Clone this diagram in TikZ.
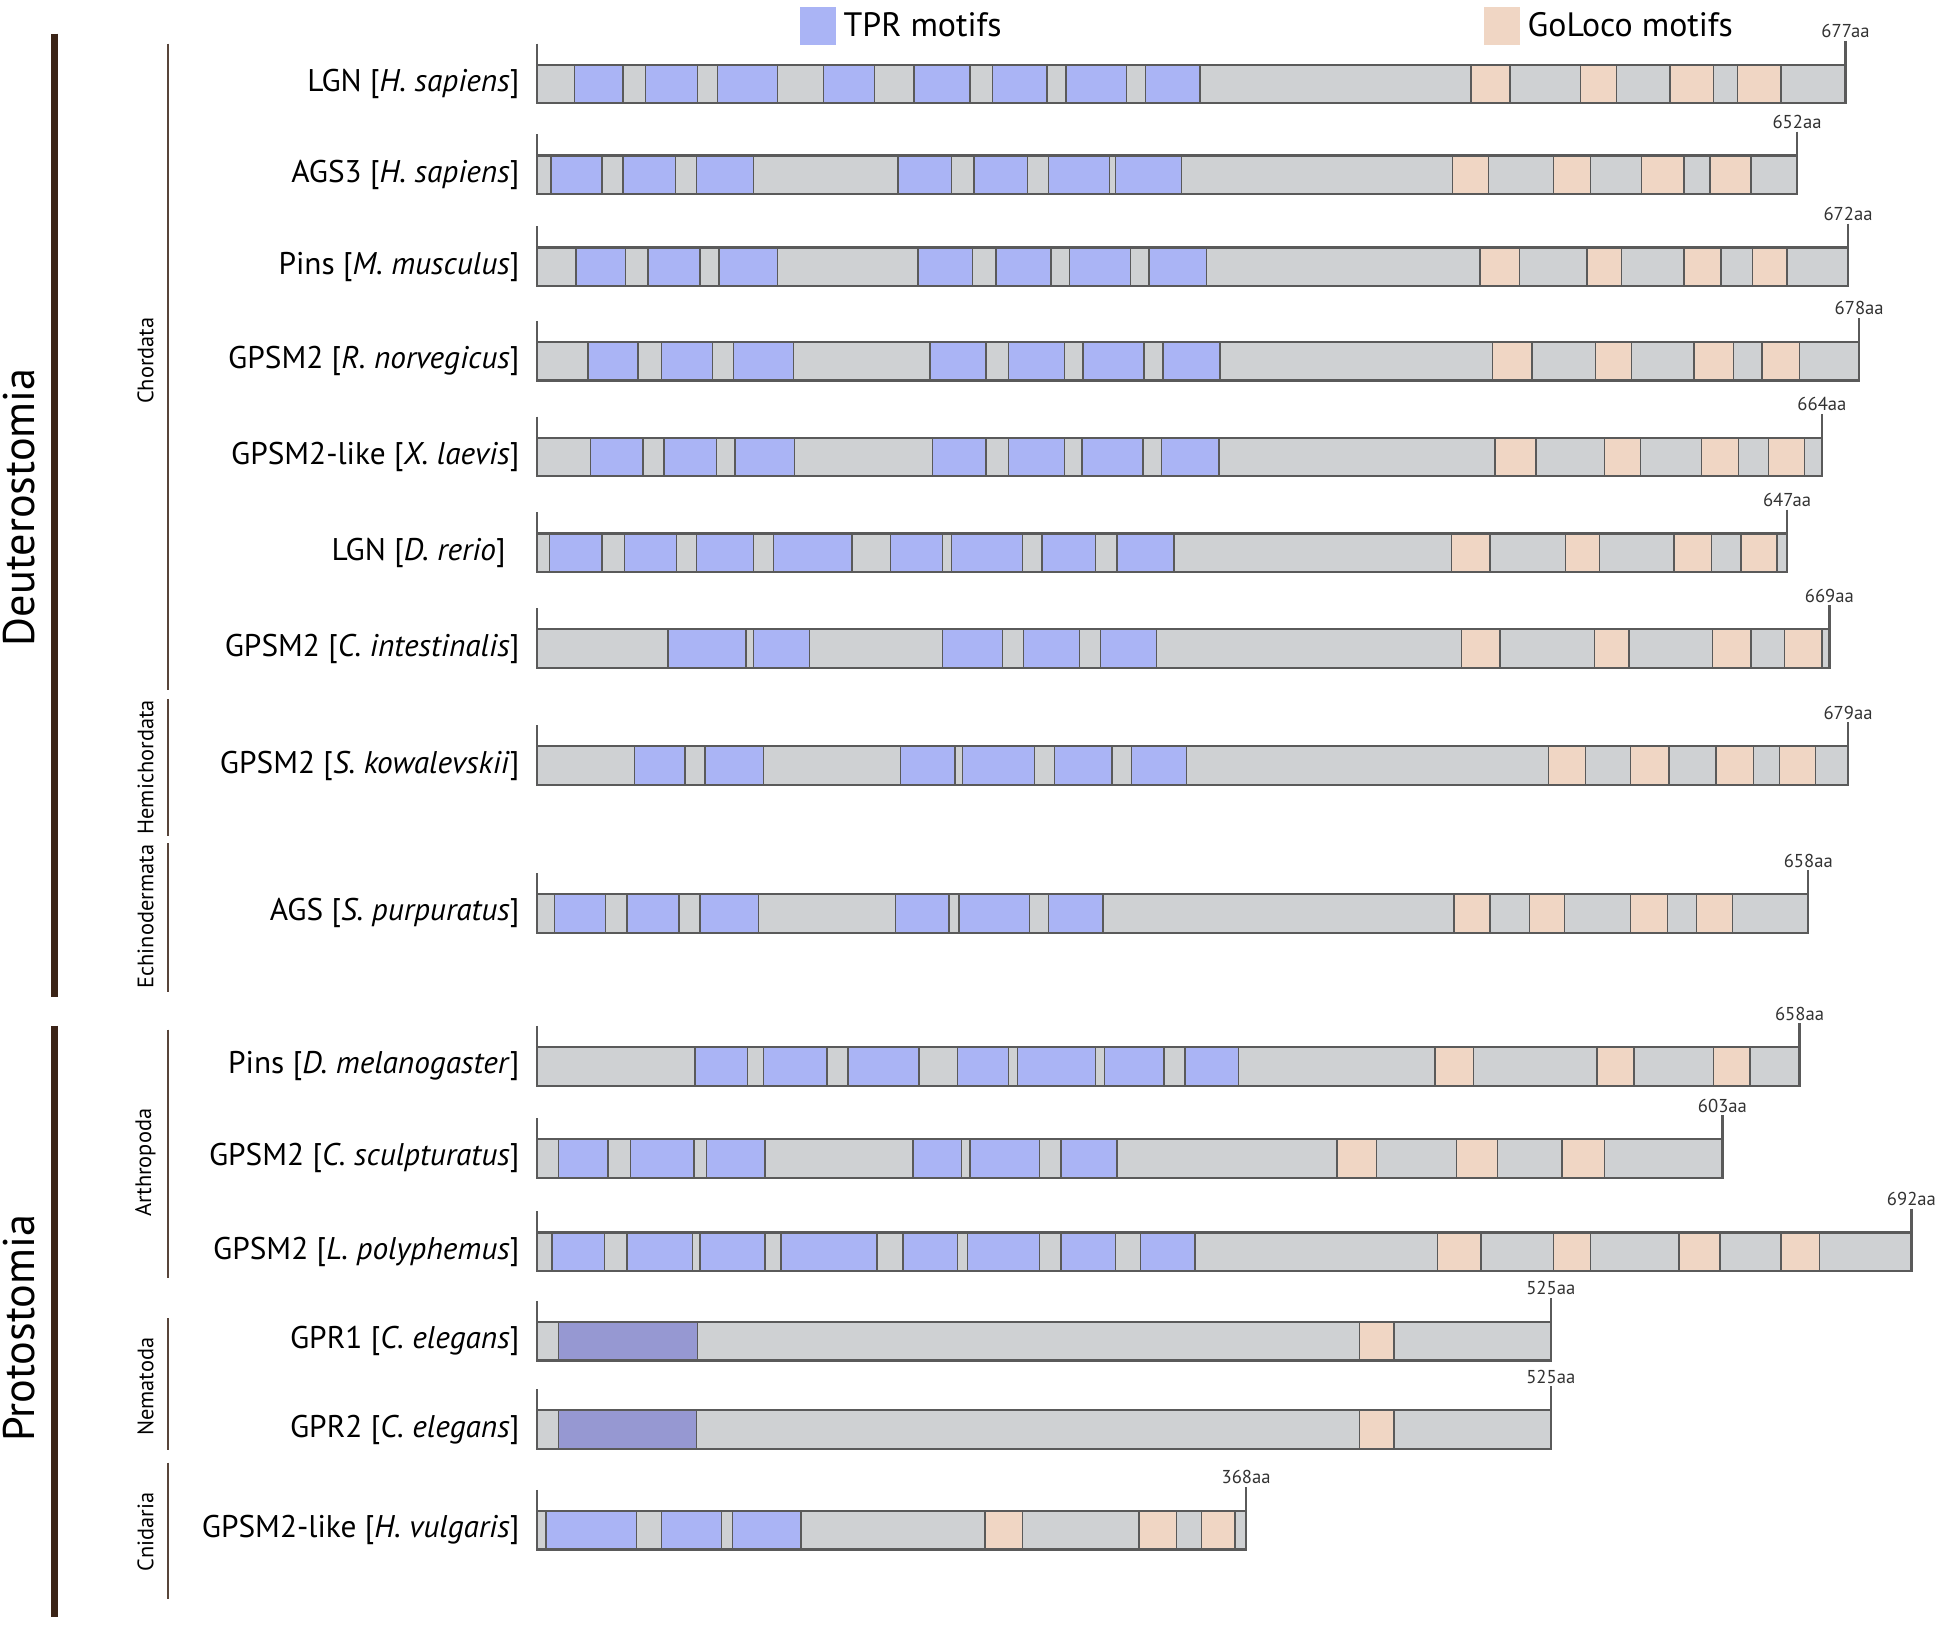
\documentclass[tikz,border=0pt]{standalone}
\usepackage{fontspec}
\setmainfont{PT Sans}
\definecolor{barfillc}{HTML}{CFD1D3}
\definecolor{tprc}{HTML}{AAB4F5}
\definecolor{gloc}{HTML}{F0D6C4}
\definecolor{gprc}{HTML}{9698D2}
\definecolor{outc}{HTML}{5A5A5A}
\definecolor{brownc}{HTML}{3B2417}
\tikzset{
  barfill/.style={fill=barfillc},
  barline/.style={draw=outc,line width=0.9pt},
  segline/.style={draw=outc,line width=0.6pt},
  numlbl/.style={font=\fontsize{7.5}{8}\selectfont,inner sep=1pt,text=black!80},
  rowlbl/.style={anchor=east,inner sep=0pt,font=\fontsize{12.6}{14}\selectfont},
  phylbl/.style={rotate=90,inner sep=0pt,font=\fontsize{9}{10}\selectfont},
  cladelbl/.style={rotate=90,inner sep=0pt,font=\fontsize{17.8}{20}\selectfont},
  phyline/.style={draw=brownc!85,line width=1pt},
  cladeline/.style={draw=brownc,line width=3pt},
  legbox/.style={inner sep=0pt,minimum width=14.5pt,minimum height=15.5pt},
  legtext/.style={anchor=west,inner sep=0pt,font=\fontsize{13.6}{15}\selectfont}
}
\newcommand\protrow[7][418]{%
  \fill[barfill] (432,#3) rectangle (#4,#3+31);
  \foreach \segA/\segB/\segC in {#7} {\filldraw[fill=\segC,segline] (\segA,#3) rectangle (\segB,#3+31);}
  \draw[barline] (432,#3) rectangle (#4,#3+31);
  \draw[barline] (432,#3-17) -- (432,#3);
  \node[numlbl] (len#2) at (#4,#3-27) {#5};
  \draw[barline] (len#2.south) -- (#4,#3);
  \node[rowlbl] (lbl#2) at (#1,#3+15.5) {#6};
}
\begin{document}
\begin{tikzpicture}[x=0.5pt,y=-0.5pt]
\useasboundingbox (0,0) rectangle (1568,1310);
\fill[white] (0,0) rectangle (1568,1310);

% legend
\node[legbox,fill=tprc,anchor=north west] (legtpr) at (643,5) {};
\node[legtext] (legtprt) at (678,20) {TPR motifs};
\node[legbox,fill=gloc,anchor=north west] (leggl) at (1193,5) {};
\node[legtext] (leggltt) at (1228,20) {GoLoco motifs};

% clades
\draw[cladeline] (44,27) -- (44,802);
\draw[cladeline] (44,825) -- (44,1300);
\node[cladelbl] (deut) at (15,408) {Deuterostomia};
\node[cladelbl] (prot) at (15,1068) {Protostomia};

% phyla
\draw[phyline] (135,35) -- (135,555);
\draw[phyline] (135,562) -- (135,672);
\draw[phyline] (135,678) -- (135,798);
\draw[phyline] (135,828) -- (135,1028);
\draw[phyline] (135,1060) -- (135,1166);
\draw[phyline] (135,1176) -- (135,1286);
\node[phylbl] (chor) at (117,290) {Chordata};
\node[phylbl] (hemi) at (117,617) {Hemichordata};
\node[phylbl] (echi) at (117,737) {Echinodermata};
\node[phylbl] (arth) at (117,935) {Arthropoda};
\node[phylbl] (nema) at (117,1115) {Nematoda};
\node[phylbl] (cnid) at (117,1232) {Cnidaria};

% proteins
\protrow{1}{52}{1484}{677aa}{LGN [\textit{H. sapiens}]}{462/501/tprc,519/561/tprc,577/625/tprc,662/703/tprc,735/780/tprc,798/842/tprc,857/906/tprc,921/965/tprc,1183/1214/gloc,1271/1300/gloc,1343/1378/gloc,1397/1432/gloc}
\protrow{2}{125}{1445}{652aa}{AGS3 [\textit{H. sapiens}]}{443/484/tprc,501/543/tprc,560/606/tprc,722/765/tprc,783/826/tprc,843/892/tprc,897/950/tprc,1168/1197/gloc,1249/1279/gloc,1320/1354/gloc,1375/1408/gloc}
\protrow{3}{199}{1486}{672aa}{Pins [\textit{M. musculus}]}{463/503/tprc,521/563/tprc,578/625/tprc,738/782/tprc,801/845/tprc,860/909/tprc,924/970/tprc,1190/1222/gloc,1276/1304/gloc,1354/1384/gloc,1409/1437/gloc}
\protrow{4}{275}{1495}{678aa}{GPSM2 [\textit{R. norvegicus}]}{473/513/tprc,532/573/tprc,590/638/tprc,748/793/tprc,811/856/tprc,871/920/tprc,935/981/tprc,1200/1232/gloc,1283/1312/gloc,1362/1394/gloc,1417/1447/gloc}
\protrow{5}{352}{1465}{664aa}{GPSM2-like [\textit{X. laevis}]}{475/517/tprc,534/576/tprc,591/639/tprc,750/793/tprc,811/856/tprc,870/919/tprc,934/980/tprc,1202/1235/gloc,1290/1319/gloc,1368/1398/gloc,1422/1451/gloc}
\protrow[407]{6}{429}{1437}{647aa}{LGN [\textit{D. rerio}]}{442/484/tprc,502/544/tprc,560/606/tprc,622/685/tprc,716/758/tprc,765/822/tprc,838/881/tprc,898/944/tprc,1167/1198/gloc,1259/1286/gloc,1346/1376/gloc,1400/1429/gloc}
\protrow{7}{506}{1471}{669aa}{GPSM2 [\textit{C. intestinalis}]}{537/600/tprc,606/651/tprc,758/806/tprc,823/868/tprc,885/930/tprc,1175/1206/gloc,1282/1310/gloc,1377/1408/gloc,1435/1465/gloc}
\protrow{8}{600}{1486}{679aa}{GPSM2 [\textit{S. kowalevskii}]}{510/551/tprc,567/614/tprc,724/768/tprc,774/832/tprc,848/894/tprc,910/954/tprc,1245/1275/gloc,1311/1342/gloc,1380/1410/gloc,1431/1460/gloc}
\protrow{9}{719}{1454}{658aa}{AGS [\textit{S. purpuratus}]}{446/487/tprc,504/546/tprc,563/610/tprc,720/763/tprc,771/828/tprc,843/887/tprc,1169/1198/gloc,1230/1258/gloc,1311/1341/gloc,1364/1393/gloc}
\protrow{10}{842}{1447}{658aa}{Pins [\textit{D. melanogaster}]}{559/601/tprc,614/665/tprc,682/739/tprc,770/811/tprc,818/881/tprc,888/936/tprc,953/996/tprc,1154/1185/gloc,1284/1314/gloc,1378/1407/gloc}
\protrow{11}{916}{1385}{603aa}{GPSM2 [\textit{C. sculpturatus}]}{449/489/tprc,507/558/tprc,568/615/tprc,734/773/tprc,780/836/tprc,853/898/tprc,1075/1107/gloc,1171/1204/gloc,1256/1290/gloc}
\protrow{12}{991}{1537}{692aa}{GPSM2 [\textit{L. polyphemus}]}{444/486/tprc,504/557/tprc,563/615/tprc,628/705/tprc,726/770/tprc,778/836/tprc,853/897/tprc,917/961/tprc,1156/1191/gloc,1249/1279/gloc,1350/1383/gloc,1432/1463/gloc}
\protrow{13}{1063}{1247}{525aa}{GPR1 [\textit{C. elegans}]}{449/561/gprc,1093/1121/gloc}
\protrow{14}{1134}{1247}{525aa}{GPR2 [\textit{C. elegans}]}{449/560/gprc,1093/1121/gloc}
\protrow{15}{1215}{1002}{368aa}{GPSM2-like [\textit{H. vulgaris}]}{439/512/tprc,532/580/tprc,589/644/tprc,792/822/gloc,916/946/gloc,966/993/gloc}
\end{tikzpicture}
\end{document}
